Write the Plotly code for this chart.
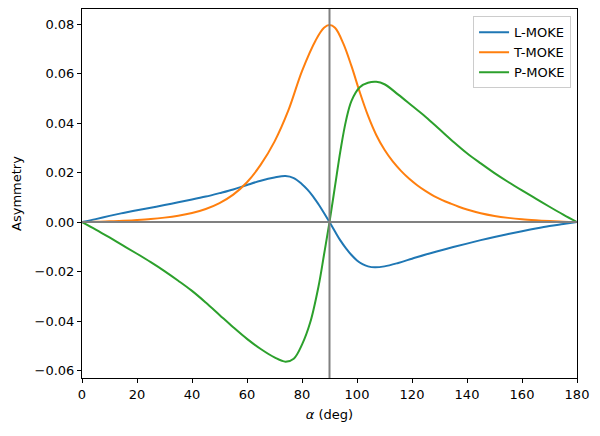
import plotly.graph_objects as go

# angle of incidence (deg) and asymmetry values
alpha_L = [0, 5, 10, 15, 20, 25, 30, 35, 40, 45, 50, 55, 60, 65, 70, 74, 77, 80, 82, 84, 86, 88, 90,
           92, 94, 96, 98, 100, 102, 104, 106.5, 110, 115, 120, 125, 130, 135, 140, 145, 150, 155, 160, 165, 170, 175, 180]
l_moke = [0, 0.0012, 0.0025, 0.0037, 0.0048, 0.0058, 0.0069, 0.0080, 0.0091, 0.0103, 0.0117, 0.0132, 0.0150,
          0.0167, 0.0180, 0.0186, 0.0178, 0.0153, 0.0131, 0.0104, 0.0072, 0.0037, 0,
          -0.0038, -0.0075, -0.0106, -0.0133, -0.0155, -0.0170, -0.0179, -0.0183, -0.0179, -0.0165, -0.0148, -0.0131,
          -0.0116, -0.0101, -0.0087, -0.0073, -0.0060, -0.0048, -0.0037, -0.0026, -0.0016, -0.0008, 0]

alpha_T = [0, 5, 10, 15, 20, 25, 30, 35, 40, 45, 50, 55, 60, 65, 70, 75, 80, 85, 88, 90, 92, 95, 98, 101,
           104, 107, 110, 113, 116, 119, 122, 125, 128, 131, 134, 137, 140, 145, 150, 155, 160, 165, 170, 175, 180]
t_moke = [0, 0.0001, 0.0003, 0.0005, 0.0008, 0.0012, 0.0018, 0.0026, 0.0037, 0.0053, 0.0077, 0.0111, 0.0161,
          0.0232, 0.0325, 0.0450, 0.0610, 0.0735, 0.0785, 0.0796, 0.0785, 0.0722, 0.0630, 0.0525,
          0.0430, 0.0352, 0.0292, 0.0245, 0.0207, 0.0175, 0.0148, 0.0125, 0.0105, 0.0089, 0.0075, 0.0062, 0.0051,
          0.0036, 0.0025, 0.0017, 0.0011, 0.0007, 0.0004, 0.0001, 0]

alpha_P = [0, 5, 10, 15, 20, 25, 30, 35, 40, 45, 50, 55, 60, 65, 70, 74, 77, 80, 83, 86, 88, 90,
           92, 94, 96, 98, 101, 104, 107, 110, 115, 120, 125, 130, 135, 140, 145, 150, 155, 160, 165, 170, 175, 180]
p_moke = [0, -0.0030, -0.0062, -0.0095, -0.0128, -0.0162, -0.0198, -0.0237, -0.0278, -0.0325, -0.0375,
          -0.0425, -0.0472, -0.0513, -0.0547, -0.0564, -0.0552, -0.0495, -0.0405, -0.0260, -0.0132, 0,
          0.0145, 0.0290, 0.0410, 0.0490, 0.0545, 0.0563, 0.0567, 0.0557, 0.0515, 0.0470, 0.0425,
          0.0375, 0.0325, 0.0278, 0.0237, 0.0198, 0.0162, 0.0128, 0.0095, 0.0062, 0.0030, 0]

x_ticks = [0, 20, 40, 60, 80, 100, 120, 140, 160, 180]
y_ticks = [-0.06, -0.04, -0.02, 0.00, 0.02, 0.04, 0.06, 0.08]

fig = go.Figure()
for name, xs, ys, col in [("L-MOKE", alpha_L, l_moke, "#1f77b4"),
                          ("T-MOKE", alpha_T, t_moke, "#ff7f0e"),
                          ("P-MOKE", alpha_P, p_moke, "#2ca02c")]:
    fig.add_trace(go.Scatter(x=xs, y=ys, mode="lines", name=name,
                             line=dict(color=col, width=2, shape="spline", smoothing=1.0)))

fig.add_shape(type="line", xref="x", yref="paper", x0=90, x1=90, y0=0, y1=1,
              line=dict(color="gray", width=2), layer="above")
fig.add_shape(type="line", xref="paper", yref="y", x0=0, x1=1, y0=0, y1=0,
              line=dict(color="gray", width=2), layer="above")

axis_common = dict(showgrid=False, zeroline=False, showline=True, linecolor="black", linewidth=1,
                   mirror=True, ticks="outside", ticklen=4, tickcolor="black",
                   tickfont=dict(size=13, color="black"))
fig.update_xaxes(range=[0, 180], tickvals=x_ticks, title=dict(text="<i>α</i> (deg)", font=dict(size=13), standoff=9),
                 **axis_common)
fig.update_yaxes(range=[-0.063, 0.0861], tickvals=y_ticks, tickformat=".2f",
                 title=dict(text="Asymmetry", font=dict(size=13), standoff=10), **axis_common)

fig.update_layout(
    width=600, height=436,
    margin=dict(l=82, r=23, t=9, b=58),
    plot_bgcolor="white", paper_bgcolor="white",
    font=dict(family="DejaVu Sans", size=13, color="black"),
    legend=dict(x=0.988, y=0.98, xanchor="right", yanchor="top", bgcolor="rgba(255,255,255,0.8)",
                bordercolor="#cccccc", borderwidth=1, font=dict(size=13), tracegroupgap=0),
)
fig.write_html("out.html")
